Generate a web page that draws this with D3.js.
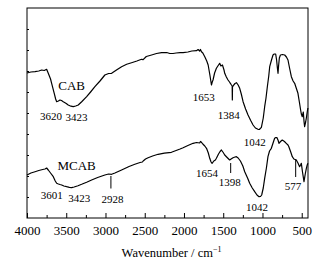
<!DOCTYPE html>
<html>
<head>
<meta charset="utf-8">
<script src="https://cdn.jsdelivr.net/npm/d3@7"></script>
<style>
  body { margin: 0; background: #fff; }
  text { font-family: "Liberation Serif", "Times New Roman", serif; fill: #000; }
</style>
</head>
<body>
<div id="chart"></div>
<script>
// FTIR spectra, transmittance in arbitrary units (no y labels in the original)
const cabWn = [4000, 3950, 3898, 3850, 3813, 3780, 3750, 3729, 3700, 3686, 3653, 3635, 3622, 3600, 3580, 3560, 3538, 3500, 3475, 3440, 3411, 3380, 3347, 3300, 3240, 3190, 3135, 3070, 3008, 2960, 2922, 2860, 2795, 2730, 2668, 2600, 2541, 2520, 2480, 2413, 2350, 2286, 2220, 2181, 2139, 2100, 2050, 2011, 1950, 1900, 1841, 1820, 1800, 1790, 1777, 1760, 1735, 1710, 1692, 1670, 1650, 1640, 1630, 1610, 1587, 1560, 1545, 1530, 1510, 1490, 1481, 1460, 1439, 1420, 1409, 1395, 1386, 1384, 1382, 1366, 1350, 1332, 1310, 1290, 1270, 1247, 1215, 1184, 1150, 1120, 1090, 1057, 1040, 1014, 990, 972, 955, 938, 920, 908, 885, 866, 850, 832, 820, 810, 802, 795, 785, 771, 745, 717, 695, 675, 655, 632, 610, 590, 570, 548, 530, 514, 505, 493, 480, 470, 463, 450, 441, 430, 421];
const cabT = [145, 146, 146.3, 147, 148, 147.5, 148.7, 144.7, 139, 134.7, 124.7, 119, 116.3, 117, 118, 117.5, 116.3, 114.5, 113, 111.8, 111.3, 112, 113, 116.5, 121.3, 126, 131.3, 137, 143, 144.5, 144.7, 148, 151.3, 153.7, 155.3, 157, 158.7, 158.3, 161.5, 163, 164.5, 165.3, 165.5, 164.5, 164.5, 165, 165.3, 165.3, 166, 167, 167.3, 168.5, 167, 168.5, 166.3, 165, 161.3, 157, 153, 143, 133, 136, 138, 145, 149.7, 153, 154.7, 152, 153, 148, 144.7, 141, 138, 136, 134.7, 133, 132, 118, 131, 133, 134.5, 135.3, 133, 129.7, 124, 116.3, 109, 103, 97.5, 93, 90, 88.7, 88.5, 90.7, 100, 111.3, 120, 131.3, 142, 151.3, 158, 163, 164, 164, 158, 150, 144.7, 152, 160, 163, 163.5, 163, 161, 158, 150, 141.3, 137, 134.7, 130, 124.7, 116, 108, 104, 101.3, 106, 96, 91.3, 96, 100, 106, 110];

const mcabWn = [4000, 3950, 3898, 3850, 3800, 3771, 3750, 3729, 3700, 3665, 3640, 3622, 3600, 3580, 3558, 3530, 3495, 3460, 3431, 3400, 3350, 3304, 3240, 3177, 3100, 3008, 2960, 2922, 2880, 2795, 2700, 2626, 2560, 2530, 2520, 2490, 2457, 2400, 2330, 2250, 2160, 2100, 2050, 2011, 1950, 1884, 1840, 1800, 1790, 1777, 1760, 1735, 1713, 1690, 1672, 1655, 1642, 1620, 1600, 1587, 1560, 1540, 1523, 1500, 1481, 1450, 1418, 1400, 1375, 1350, 1332, 1310, 1281, 1250, 1226, 1190, 1163, 1130, 1099, 1070, 1044, 1025, 1010, 990, 972, 950, 930, 910, 887, 865, 845, 830, 815, 800, 790, 770, 748, 720, 697, 675, 664, 640, 620, 600, 585, 569, 548, 527, 515, 505, 490, 471, 455, 441, 430, 421];
const mcabT = [43, 45, 46.3, 47.5, 48.5, 49, 50, 48, 45, 41.3, 37, 34.7, 34, 33.5, 33, 32, 31.3, 30.7, 30.3, 31, 32.3, 33.7, 35.8, 38, 40.5, 43, 44, 43.7, 45, 48, 51.5, 53.7, 55.5, 56, 57, 59, 60.3, 62, 63.7, 64.8, 65.7, 67.5, 69, 70.3, 72.5, 74.7, 75.5, 75, 76.5, 75.7, 74, 72, 69.7, 65, 59.7, 56, 54.7, 57, 58, 59.7, 64, 66.5, 68, 65.5, 63, 60.5, 58, 59, 60.3, 61, 61.3, 60, 57, 52, 46.3, 40, 34.7, 30, 26.3, 23, 21.3, 21.5, 23, 30, 39.7, 50, 61.3, 67, 69.7, 75, 79.7, 80.5, 80.3, 77.5, 74.7, 76.5, 78, 76.5, 74.7, 73, 71.3, 66, 61.3, 59, 58.5, 58, 55, 51.3, 53, 54.7, 46, 36.3, 44, 49.7, 53, 54.7];

const xTicks = [4000, 3500, 3000, 2500, 2000, 1500, 1000, 500];
const xMinorTicks = [3750, 3250, 2750, 2250, 1750, 1250, 750];

// peak labels: text, wavenumber of anchor, level of baseline (layout)
const cabLabels = [
  { text: "CAB", wn: 3431, t: 128, big: true },
  { text: "3620", wn: 3695, t: 98 },
  { text: "3423", wn: 3368, t: 97 },
  { text: "1653", wn: 1748, t: 117 },
  { text: "1384", wn: 1430, t: 99 },
  { text: "1042", wn: 1099, t: 72.5 }
];
const mcabLabels = [
  { text: "MCAB", wn: 3368, t: 48, big: true },
  { text: "3601", wn: 3686, t: 19 },
  { text: "3423", wn: 3335, t: 16 },
  { text: "2928", wn: 2910, t: 15 },
  { text: "1654", wn: 1706, t: 41.5 },
  { text: "1398", wn: 1417, t: 32.5 },
  { text: "1042", wn: 1070, t: 7 },
  { text: "577", wn: 612, t: 28.5 }
];
// short marker strokes under MCAB peaks: [wavenumber, top, bottom]
const mcabMarks = [[2931, 42, 29.5], [1405, 55, 45], [577, 59, 41]];

const W = 329, H = 265;
const margin = { top: 8, right: 21, bottom: 47, left: 27 };
const width = W - margin.left - margin.right;
const height = H - margin.top - margin.bottom;

const svg = d3.select("#chart").append("svg")
    .attr("width", W)
    .attr("height", H);
const g = svg.append("g")
    .attr("transform", `translate(${margin.left},${margin.top})`);

const x = d3.scaleLinear().domain([4000, 420]).range([0, width]);
const y = d3.scaleLinear().domain([0, 210]).range([height, 0]);

// frame
g.append("rect")
    .attr("width", width).attr("height", height)
    .attr("fill", "none").attr("stroke", "#000").attr("stroke-width", 1);

// bottom axis, ticks pointing inward
const xAxis = g.append("g")
    .attr("transform", `translate(0,${height})`)
    .call(d3.axisBottom(x).tickValues(xTicks).tickSize(-5).tickPadding(8).tickFormat(d3.format("d")));
xAxis.select(".domain").remove();
xAxis.selectAll("text").attr("font-size", "13px").style("font-family", "'Liberation Serif', serif");
g.append("g")
    .attr("transform", `translate(0,${height})`)
    .call(d3.axisBottom(x).tickValues(xMinorTicks).tickSize(-3).tickFormat(""))
    .call(a => a.select(".domain").remove());

// left axis, small inward ticks without labels
g.append("g")
    .call(d3.axisLeft(y).tickValues(d3.range(21, 210, 21)).tickSize(-2).tickFormat(""))
    .call(a => a.select(".domain").remove());

const line = d3.line()
    .x(d => x(d[0]))
    .y(d => y(d[1]));

[[cabWn, cabT], [mcabWn, mcabT]].forEach(([wn, t]) => {
    g.append("path")
        .datum(wn.map((w, i) => [w, t[i]]))
        .attr("fill", "none")
        .attr("stroke", "#000")
        .attr("stroke-width", 1.2)
        .attr("stroke-linejoin", "round")
        .attr("d", line);
});

g.selectAll(".mark")
    .data(mcabMarks)
    .enter().append("line")
    .attr("x1", d => x(d[0])).attr("x2", d => x(d[0]))
    .attr("y1", d => y(d[1])).attr("y2", d => y(d[2]))
    .attr("stroke", "#000").attr("stroke-width", 1);

g.selectAll(".peak")
    .data(cabLabels.concat(mcabLabels))
    .enter().append("text")
    .attr("x", d => x(d.wn))
    .attr("y", d => y(d.t))
    .attr("text-anchor", "middle")
    .attr("font-size", d => d.big ? "13px" : "11px")
    .text(d => d.text);

// axis title
const title = svg.append("text")
    .attr("x", margin.left + width / 2 + 4)
    .attr("y", 257)
    .attr("text-anchor", "middle")
    .attr("font-size", "12.5px");
title.append("tspan").text("Wavenumber / cm");
title.append("tspan").attr("dy", -5).attr("font-size", "8px").text("\u22121");
</script>
</body>
</html>
